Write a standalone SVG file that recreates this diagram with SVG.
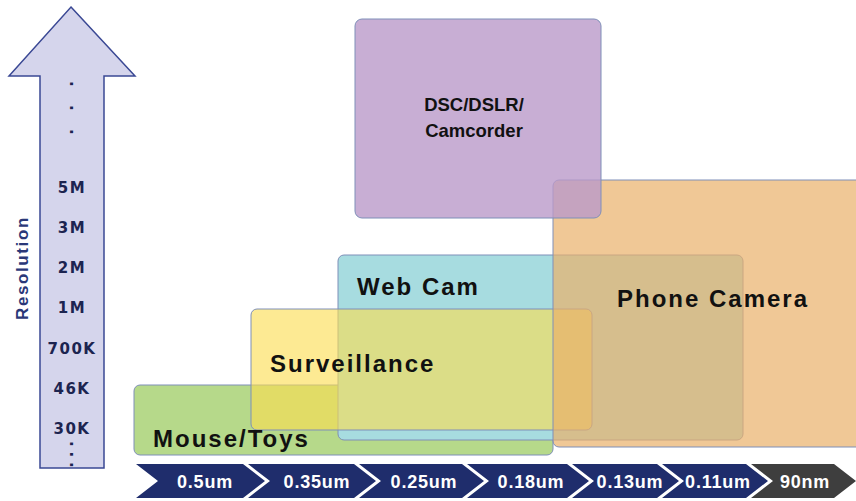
<svg xmlns="http://www.w3.org/2000/svg" width="856" height="501" viewBox="0 0 856 501">
<style>
.box{stroke:#7f8fb8;stroke-width:1}
.lbl{font-family:"Liberation Sans",Arial,sans-serif;font-weight:bold;font-size:24px;letter-spacing:2px;fill:#111}
.res{font-family:"DejaVu Sans","Liberation Sans",sans-serif;font-weight:bold;font-size:15px;letter-spacing:1.5px;fill:#1c2450;text-anchor:middle}
.dots{font-family:"DejaVu Sans","Liberation Sans",sans-serif;font-weight:bold;font-size:15px;fill:#1c2450}
.chev{fill:#1f2d6c}
.ctx{font-family:"Liberation Sans",Arial,sans-serif;font-weight:bold;font-size:18px;letter-spacing:0.8px;fill:#fff;text-anchor:middle}
.dsc{font-family:"Liberation Sans",Arial,sans-serif;font-weight:bold;font-size:18.5px;fill:#111;text-anchor:middle}
</style>
<rect width="856" height="501" fill="#fff"/>
<g id="axis">
<polygon points="71,7 135,76 104,76 104,468 40,468 40,76 9,76" fill="#d5d5ec" stroke="#3a4894" stroke-width="1.5"/>
<text class="dots" transform="translate(70,81) rotate(90)" letter-spacing="18.3">...</text>
<text class="res" x="72" y="193">5M</text>
<text class="res" x="72" y="233">3M</text>
<text class="res" x="72" y="273">2M</text>
<text class="res" x="72" y="313">1M</text>
<text class="res" x="72" y="354">700K</text>
<text class="res" x="72" y="394">46K</text>
<text class="res" x="72" y="434">30K</text>
<text class="dots" transform="translate(70,441) rotate(90)" letter-spacing="4.8">...</text>
<text transform="translate(28,268) rotate(-90)" font-family="Liberation Sans,Arial,sans-serif" font-weight="bold" font-size="17" letter-spacing="1.6" fill="#2a3878" text-anchor="middle">Resolution</text>
</g>
<g id="mouse">
<rect class="box" x="134" y="385" width="419" height="70" rx="6" fill="#b6d98a"/>
</g>
<g id="webcam">
<rect class="box" x="338" y="255" width="405" height="185" rx="6" fill="#a7dce0"/>
</g>
<g id="surveillance">
<rect class="box" x="251" y="309" width="341" height="121" rx="6" fill="#fcdd51" fill-opacity="0.62"/>
</g>
<g id="phone">
<rect class="box" x="553" y="180" width="320" height="267" rx="6" fill="#eab16a" fill-opacity="0.7"/>
</g>
<g id="dsc">
<rect class="box" x="355" y="19" width="246" height="199" rx="7" fill="#ba9ac9" fill-opacity="0.8"/>
</g>
<g id="labels">
<text class="lbl" x="153" y="447">Mouse/Toys</text>
<text class="lbl" x="270" y="372">Surveillance</text>
<text class="lbl" x="357" y="295">Web Cam</text>
<text class="lbl" x="617" y="307" letter-spacing="2.4">Phone Camera</text>
<text class="dsc" x="474" y="111">DSC/DSLR/</text>
<text class="dsc" x="474" y="137">Camcorder</text>
</g>
<g id="process">
<polygon class="chev" points="136,464 243,464 265,481 243,498 136,498 158,481"/>
<polygon class="chev" points="248,464 354,464 376,481 354,498 248,498 270,481"/>
<polygon class="chev" points="359,464 462,464 484,481 462,498 359,498 381,481"/>
<polygon class="chev" points="467,464 567,464 589,481 567,498 467,498 489,481"/>
<polygon class="chev" points="572,464 657,464 679,481 657,498 572,498 594,481"/>
<polygon class="chev" points="662,464 746,464 768,481 746,498 662,498 684,481"/>
<polygon points="751,464 834,464 856,481 834,498 751,498 773,481" fill="#3e3e3e"/>
<text class="ctx" x="205" y="488">0.5um</text>
<text class="ctx" x="317" y="488">0.35um</text>
<text class="ctx" x="424" y="488">0.25um</text>
<text class="ctx" x="531" y="488">0.18um</text>
<text class="ctx" x="630" y="488">0.13um</text>
<text class="ctx" x="718" y="488">0.11um</text>
<text class="ctx" x="805" y="488">90nm</text>
</g>
</svg>
